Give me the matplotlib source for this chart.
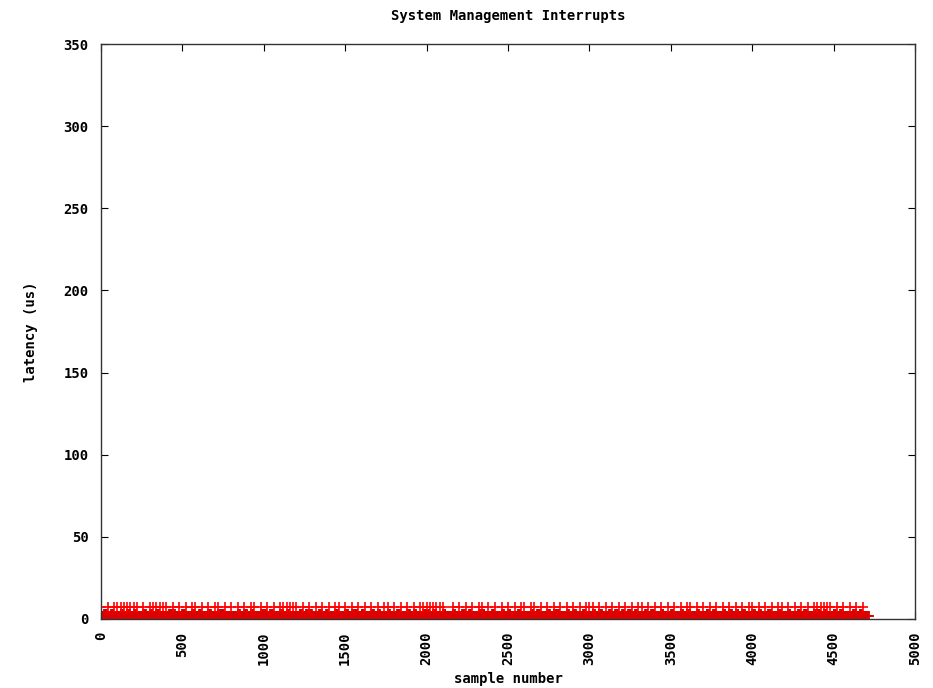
import numpy as np
import matplotlib.pyplot as plt

# latency readings, one character per block of 20 samples
bin_size = 20
base_latency = ("2323223232" "3223232322" "2332232232" "3223223322" "2232323223"
                "3232232322" "2323322323" "2232232332" "3223232232" "2322323223"
                "3232232232" "2323223322" "3223232232" "2232322323" "3223232232"
                "2323223232" "3232322323" "2232232232" "3223223232" "2323232322"
                "3232232232" "2322323223" "3232232322" "232322")
spike_latency = ("7.7.777777" "77.7.77777" "7.7.7.7.77" ".7.7.77.7." "7.7.7.77.7"
                 ".7.7.77777" "7.7.7.7.7." "7.77.7.7.7" ".7.7.7.77." "7.7.7.7.77"
                 "777777..7." "7.7.7.77.7" ".7.7.7.7.7" "7.77.7.7.7" ".7.7.7.7.7"
                 "77.7.7.7.7" ".7.7.77.7." "7.7.7.7.7." "77.7.7.7.7" ".7.7.7.7.7"
                 "7.7.7.7.77" ".7.7.7.7.7" "77777.7.7." "7.7.7.")

x_ticks = [0, 500, 1000, 1500, 2000, 2500, 3000, 3500, 4000, 4500, 5000]
y_ticks = [0, 50, 100, 150, 200, 250, 300, 350]

# every block holds 4 samples read at the same level
sub = 4
bins = np.arange(len(base_latency)) * bin_size
low = np.array([int(c) for c in base_latency])
samples = (bins[:, None] + np.arange(sub) * (bin_size // sub)).ravel()
low_all = np.repeat(low, sub)
spike_x = [bins[i] for i, c in enumerate(spike_latency) if c != '.']
spike_y = [int(c) for c in spike_latency if c != '.']

font = {'family': 'DejaVu Sans Mono', 'weight': 'bold', 'size': 10}

fig = plt.figure(figsize=(9.33, 6.88), dpi=100)
ax = fig.add_axes([0.1083, 0.1003, 0.8724, 0.8357])

ax.plot(samples, low_all, '+', color='#dd0000', markersize=7, markeredgewidth=1.3)
ax.plot(spike_x, spike_y, '+', color='red', markersize=7, markeredgewidth=1.2)

ax.set_xlim(0, 5000)
ax.set_ylim(0, 350)
ax.set_xticks(x_ticks)
ax.set_yticks(y_ticks)
ax.set_xticklabels([str(t) for t in x_ticks], rotation=90, fontdict=font)
ax.set_yticklabels([str(t) for t in y_ticks], fontdict=font)
ax.tick_params(direction='in', length=5, width=0.8, top=True, right=True, pad=9)

for s in ax.spines.values():
    s.set_linewidth(1.0)
    s.set_color('#333333')

ax.set_title('System Management Interrupts', fontdict=font, pad=17)
ax.set_xlabel('sample number', fontdict=font, labelpad=5)
ax.set_ylabel('latency (us)', fontdict=font, labelpad=18)

fig.savefig('out.png', dpi=100)
